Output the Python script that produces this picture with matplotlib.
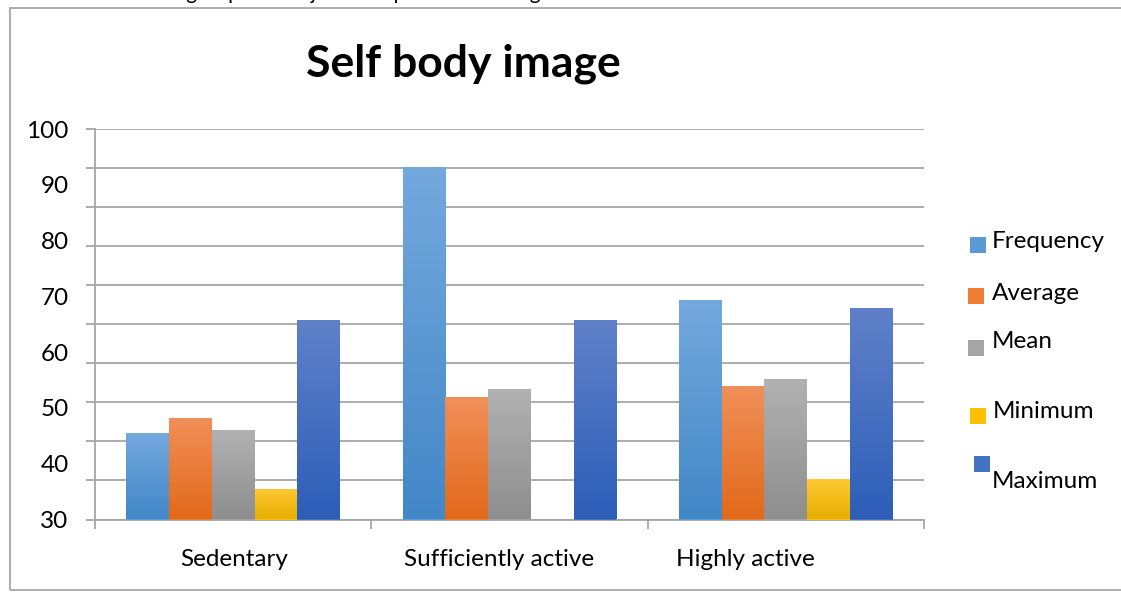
import numpy as np
import matplotlib
matplotlib.use("Agg")
import matplotlib.pyplot as plt
from matplotlib.colors import LinearSegmentedColormap
from matplotlib.patches import Rectangle

# ---------------- data ----------------
categories = ["Sedentary", "Sufficiently active", "Highly active"]
series_names = ["Frequency", "Average", "Mean", "Minimum", "Maximum"]
frequency = [45.5, 93.1, 69.3]
average = [48.2, 52.0, 53.9]
mean = [46.0, 53.4, 55.2]
minimum = [35.5, np.nan, 37.2]
maximum = [65.8, 65.8, 67.9]
y_labels = [30, 40, 50, 60, 70, 80, 90, 100]
title = "Self body image"

series_values = [frequency, average, mean, minimum, maximum]

# ---------------- style ----------------
W, H = 1121, 592
plt.rcParams['font.family'] = ['Lato', 'DejaVu Sans']
fig = plt.figure(figsize=(W / 100, H / 100), dpi=100)

def fx(x):
    return x / W

def fy(y):
    return 1 - y / H

grad_colors = [
    ("#74A9DE", "#4287C7"),
    ("#F09059", "#E2691A"),
    ("#B2B2B2", "#8E8E8E"),
    ("#FFC935", "#E6AF00"),
    ("#6081C9", "#2C5EB8"),
]
solid_colors = ["#5B9BD5", "#ED7D31", "#A5A5A5", "#FFC000", "#4472C4"]
grid_color = "#A6A6A6"
fs = 17.5
# category labels in the original are not exactly centred on their groups
label_shift = [0.005, -0.036, -0.148]

ax_left, ax_right, ax_top, ax_bottom = 95, 924, 129, 519.5
ax = fig.add_axes([fx(ax_left), fy(ax_bottom), fx(ax_right - ax_left), (ax_bottom - ax_top) / H])

ymin, ymax = 30, 100
ax.set_ylim(ymin, ymax)
ax.set_xlim(-0.5, len(categories) - 0.5)

bw = 0.1545
n = len(series_names)
x = np.arange(len(categories))
for i, vals in enumerate(series_values):
    top_c, bot_c = grad_colors[i]
    cmap = LinearSegmentedColormap.from_list(f"g{i}", [bot_c, top_c])
    grad = np.linspace(0, 1, 256).reshape(-1, 1)
    bars = ax.bar(x + (i - (n - 1) / 2) * bw, vals, width=bw, bottom=0,
                  color=solid_colors[i], linewidth=0, zorder=3)
    for b, v in zip(bars, vals):
        if np.isnan(v):
            continue
        x0 = b.get_x()
        im = ax.imshow(grad, cmap=cmap, origin="lower", aspect="auto",
                       extent=(x0, x0 + b.get_width(), ymin, v), zorder=3.5)
        im.set_clip_path(b)

ax.set_ylim(ymin, ymax)
ax.set_xlim(-0.5, len(categories) - 0.5)

# grid lines at 11 evenly spaced positions (as in the original)
ax.yaxis.remove_overlapping_locs = False
grid_pos = np.linspace(ymin, ymax, 11)
ax.set_yticks(grid_pos)
ax.set_yticklabels([])
ax.set_yticks(y_labels, minor=True)
ax.set_yticklabels([str(v) for v in y_labels], minor=True)
ax.tick_params(axis="y", which="major", length=6.5, width=1.3, color=grid_color, direction="out")
ax.tick_params(axis="y", which="minor", length=0, pad=19, labelsize=fs, labelcolor="black")
ax.grid(axis="y", which="major", color=grid_color, linewidth=1.3, zorder=0)
ax.set_axisbelow(True)

ax.xaxis.remove_overlapping_locs = False
ax.set_xticks(np.arange(-0.5, len(categories), 1.0))
ax.set_xticklabels([])
ax.set_xticks(x + np.array(label_shift), minor=True)
ax.set_xticklabels(categories, minor=True)
ax.tick_params(axis="x", which="major", length=6.5, width=1.3, color=grid_color, direction="out")
ax.tick_params(axis="x", which="minor", length=0, pad=21, labelsize=fs, labelcolor="black")

for s in ["top", "right"]:
    ax.spines[s].set_visible(False)
for s in ["left", "bottom"]:
    ax.spines[s].set_color(grid_color)
    ax.spines[s].set_linewidth(1.3)

# title
fig.text(fx(463), fy(64), title, ha="center", va="center", fontsize=32, fontweight="bold")

# legend drawn manually, reproducing its irregular layout
leg_squares = [(970, 237), (968, 288), (968, 340), (970, 408), (974, 456)]
leg_text = [(992, 242), (992, 293), (992, 341), (993, 411), (992, 481)]
for i, name in enumerate(series_names):
    sx, sy = leg_squares[i]
    fig.patches.append(Rectangle((fx(sx), fy(sy + 16)), 16 / W, 16 / H,
                                 transform=fig.transFigure, facecolor=solid_colors[i],
                                 edgecolor="none"))
    tx, ty = leg_text[i]
    fig.text(fx(tx), fy(ty), name, ha="left", va="center", fontsize=fs)

# outer chart border
fig.patches.append(Rectangle((fx(10), fy(590)), (W + 5 - 10) / W, (590 - 8) / H,
                             transform=fig.transFigure, facecolor="none",
                             edgecolor=grid_color, linewidth=1.3))

# cut-off line of document text above the chart
fig.text(fx(10), fy(-1), "ments of the three groups of subjects are presented in Figure 3",
         ha="left", va="baseline", fontsize=15)

fig.savefig("out.png", dpi=100)
